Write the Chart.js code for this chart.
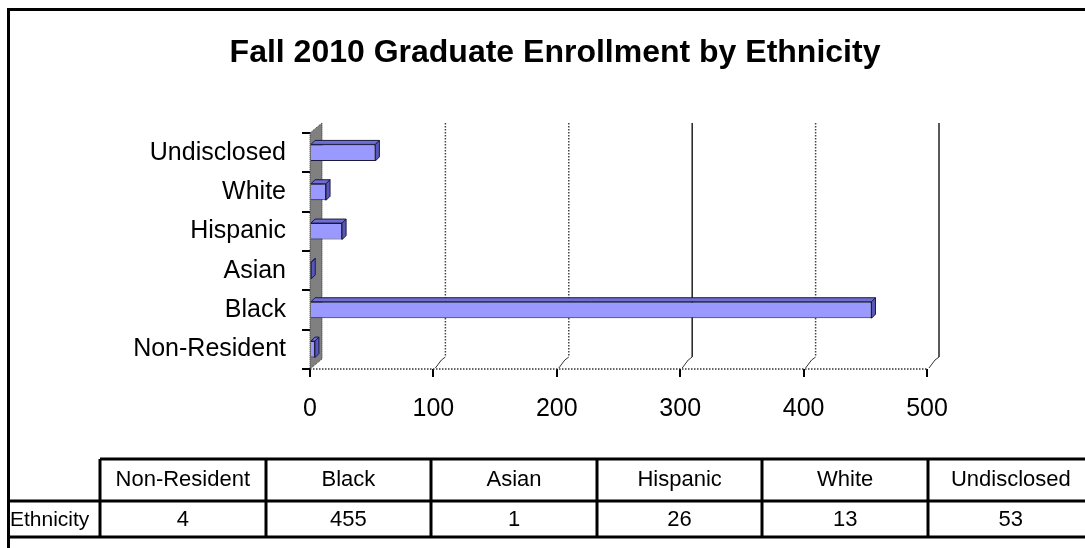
<!DOCTYPE html>
<html>
<head>
<meta charset="utf-8">
<script src="https://cdn.jsdelivr.net/npm/chart.js@4/dist/chart.umd.min.js"></script>
<style>
  html, body { margin: 0; padding: 0; background: #fff; }
  canvas { display: block; }
</style>
</head>
<body>
<canvas id="enrollChart" width="1085" height="548"></canvas>
<script>
// data, in the order of the table below the chart
const categories = ['Non-Resident', 'Black', 'Asian', 'Hispanic', 'White', 'Undisclosed'];
const enrollment = [4, 455, 1, 26, 13, 53];
const xTicks = [0, 100, 200, 300, 400, 500];
const rowLabel = 'Ethnicity';
const chartTitle = 'Fall 2010 Graduate Enrollment by Ethnicity';

const FONT = '"Liberation Sans", Arial, sans-serif';
const DX = 12, DY = -10;  // depth of the 3d box
const BD = 4;             // depth of each bar

// wall, back grid and floor, drawn behind the bars
const box3d = {
    id: 'box3d',
    beforeDatasetsDraw(chart) {
        const { ctx, chartArea: a, scales: { x } } = chart;
        ctx.save();
        // grey side wall
        ctx.fillStyle = '#808080';
        ctx.beginPath();
        ctx.moveTo(a.left, a.top);
        ctx.lineTo(a.left + DX, a.top + DY);
        ctx.lineTo(a.left + DX, a.bottom + DY);
        ctx.lineTo(a.left, a.bottom);
        ctx.closePath();
        ctx.fill();
        ctx.strokeStyle = '#333';
        ctx.lineWidth = 1;
        ctx.setLineDash([1, 1]);
        ctx.stroke();

        // back gridlines + floor diagonals
        xTicks.forEach(v => {
            if (v === 0) return;
            const px = x.getPixelForValue(v);
            const solid = (v === 300 || v === 500);
            ctx.strokeStyle = solid ? '#222' : '#444';
            ctx.lineWidth = 1.5;
            ctx.setLineDash(solid ? [] : [1.5, 1.5]);
            ctx.beginPath();
            ctx.moveTo(px + DX, a.top + DY);
            ctx.lineTo(px + DX, a.bottom + DY - 2);
            ctx.stroke();
            ctx.setLineDash([]);
            ctx.strokeStyle = '#333';
            ctx.lineWidth = 1;
            ctx.beginPath();
            ctx.moveTo(px + DX, a.bottom + DY - 2);
            ctx.lineTo(px + DX - 4, a.bottom + DY + 1);
            ctx.lineTo(px + 2, a.bottom - 1);
            ctx.stroke();
        });

        // floor front edge
        ctx.strokeStyle = '#333';
        ctx.lineWidth = 1.5;
        ctx.setLineDash([1.5, 1.5]);
        ctx.beginPath();
        ctx.moveTo(a.left, a.bottom);
        ctx.lineTo(a.right, a.bottom);
        ctx.stroke();
        ctx.restore();
    },
    afterDatasetsDraw(chart) {
        const { ctx } = chart;
        const meta = chart.getDatasetMeta(0);
        ctx.save();
        ctx.strokeStyle = '#1a1a40';
        ctx.lineWidth = 1;
        meta.data.forEach(bar => {
            const p = bar.getProps(['x', 'y', 'base', 'height'], true);
            const top = p.y - p.height / 2, bot = p.y + p.height / 2;
            // top face
            ctx.fillStyle = '#6e6ed4';
            ctx.beginPath();
            ctx.moveTo(p.base, top);
            ctx.lineTo(p.base + BD, top - BD);
            ctx.lineTo(p.x + BD, top - BD);
            ctx.lineTo(p.x, top);
            ctx.closePath();
            ctx.fill();
            ctx.stroke();
            // end face
            ctx.fillStyle = '#5858bc';
            ctx.beginPath();
            ctx.moveTo(p.x, top);
            ctx.lineTo(p.x + BD, top - BD);
            ctx.lineTo(p.x + BD, bot - BD);
            ctx.lineTo(p.x, bot);
            ctx.closePath();
            ctx.fill();
            ctx.stroke();
        });
        ctx.restore();
    },
    afterDraw(chart) {
        const { ctx } = chart;
        ctx.save();
        // title
        ctx.fillStyle = '#000';
        ctx.font = 'bold 32px ' + FONT;
        ctx.textAlign = 'center';
        ctx.textBaseline = 'alphabetic';
        ctx.fillText(chartTitle, 555, 62);

        // outer frame
        ctx.strokeStyle = '#000';
        ctx.lineWidth = 3;
        ctx.beginPath();
        ctx.moveTo(1086, 9.5);
        ctx.lineTo(8.5, 9.5);
        ctx.lineTo(8.5, 548);
        ctx.stroke();

        // data table
        const colX = 100, colW = 165.6;
        const rTop = 459, rMid = 501, rBot = 537;
        ctx.beginPath();
        ctx.moveTo(colX, rTop); ctx.lineTo(1086, rTop);
        ctx.moveTo(8, rMid); ctx.lineTo(1086, rMid);
        ctx.moveTo(8, rBot); ctx.lineTo(1086, rBot);
        for (let i = 0; i <= categories.length; i++) {
            const cx = Math.round(colX + i * colW);
            ctx.moveTo(cx, rTop); ctx.lineTo(cx, rBot);
        }
        ctx.stroke();

        ctx.font = '22px ' + FONT;
        ctx.textBaseline = 'middle';
        categories.forEach((c, i) => {
            const cx = colX + i * colW + colW / 2;
            ctx.textAlign = 'center';
            ctx.fillText(c, cx, (rTop + rMid) / 2);
            ctx.fillText(String(enrollment[i]), cx, (rMid + rBot) / 2 + 1);
        });
        ctx.textAlign = 'left';
        ctx.font = '21px ' + FONT;
        ctx.fillText(rowLabel, 10, (rMid + rBot) / 2 + 1);
        ctx.restore();
    }
};

const ctx = document.getElementById('enrollChart').getContext('2d');
const enrollChart = new Chart(ctx, {
    type: 'bar',
    data: {
        labels: categories,
        datasets: [{
            label: rowLabel,
            data: enrollment,
            backgroundColor: '#9999ff',
            borderColor: '#1a1a40',
            borderWidth: 1,
            barPercentage: 0.42,
            categoryPercentage: 1
        }]
    },
    options: {
        indexAxis: 'y',
        responsive: false,
        animation: false,
        layout: { padding: { top: 133, right: 158, left: 0, bottom: 0 } },
        plugins: {
            legend: { display: false },
            tooltip: { enabled: false },
            title: { display: false }
        },
        scales: {
            x: {
                min: 0,
                max: 500,
                afterBuildTicks: s => { s.ticks = xTicks.map(v => ({ value: v })); },
                afterFit: s => { s.height = 179; },
                border: { display: false },
                grid: { drawOnChartArea: false, drawTicks: true, tickLength: 8, color: '#000', lineWidth: 2 },
                ticks: { color: '#000', font: { family: FONT, size: 25 }, padding: 17, maxRotation: 0 }
            },
            y: {
                reverse: true,
                afterFit: s => { s.width = 310; },
                border: { display: false },
                grid: { drawOnChartArea: false, drawTicks: true, tickLength: 8, color: '#000', lineWidth: 2, offset: true },
                ticks: { color: '#000', font: { family: FONT, size: 25 }, padding: 16 }
            }
        }
    },
    plugins: [box3d]
});
</script>
</body>
</html>
